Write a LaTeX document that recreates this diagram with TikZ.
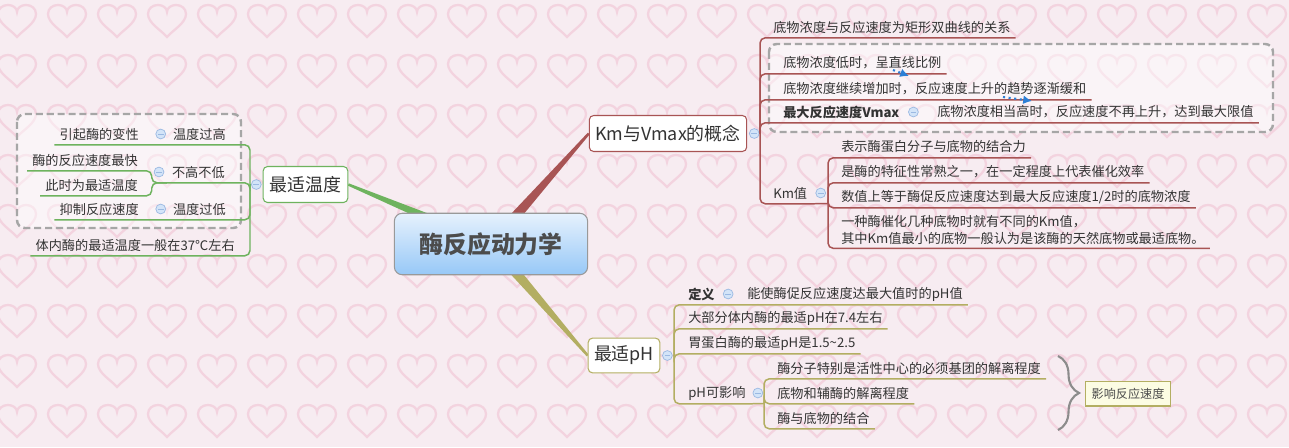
\documentclass[tikz,border=0pt]{standalone}
\usepackage{fontspec}
\setmainfont{Noto Sans CJK SC}
\usepackage{tikz}
\usetikzlibrary{positioning,calc,arrows.meta,backgrounds}
\usetikzlibrary{decorations.pathreplacing}
\definecolor{fenhong}{HTML}{F7ECF1}
\definecolor{taoxin}{HTML}{F3D3DF}
\definecolor{shenhui}{HTML}{333333}
\definecolor{lvse}{HTML}{6EB35E}
\definecolor{hongse}{HTML}{A85454}
\definecolor{ganlan}{HTML}{B3AE62}
\definecolor{zdtian}{HTML}{D3E4F8}
\definecolor{zdbian}{HTML}{9BB9E2}
\definecolor{bjhui}{HTML}{A6A6A6}
\definecolor{lanse}{HTML}{2C7FD6}
\definecolor{gocsang}{HTML}{E6F1FD}
\definecolor{gocdam}{HTML}{97C8F7}
\definecolor{huangdi}{HTML}{FCFCE3}

\begin{document}
\begin{tikzpicture}[x=0.02cm, y=-0.02cm, text=shenhui,
  font=\fontsize{7.5pt}{9.5pt}\selectfont,
  zi/.style={inner xsep=2.8pt, inner ysep=0pt, minimum height=11.9pt},
  cu/.style={font=\fontsize{7.5pt}{9.5pt}\selectfont\bfseries},
  zhuti/.style={draw, fill=white, rounded corners=2.5pt, line width=0.6pt,
    minimum height=20.5pt, inner xsep=3pt, font=\fontsize{10.2pt}{12pt}\selectfont},
  zhedie/.style={circle, draw=zdbian, fill=zdtian, line width=0.4pt,
    minimum size=5.6pt, inner sep=0pt,
    path picture={\draw[zdbian, line width=0.5pt]
      ([xshift=-1.6pt]path picture bounding box.center) --
      ([xshift=1.6pt]path picture bounding box.center);}},
  bianjie/.style={draw=bjhui, line width=1.4pt, dash pattern=on 4pt off 2.2pt,
    rounded corners=4.5pt, fill=white, fill opacity=0.45},
  lvxian/.style={draw=lvse, line width=0.85pt, rounded corners=3pt},
  hongxian/.style={draw=hongse, line width=0.85pt, rounded corners=3pt},
  ganxian/.style={draw=ganlan, line width=0.85pt, rounded corners=3pt},
  guanxi/.style={draw=lanse, line width=1.2pt, dotted, -{Latex[length=5pt,width=5pt]}},
]
\useasboundingbox (0,0) rectangle (1289,447);
\begin{scope}[on background layer]
  \fill[fenhong] (0,0) rectangle (1289,447);
  \clip (0,0) rectangle (1289,447);
  \foreach \i in {0,...,25}
    \foreach \j in {0,...,8}
      \draw[taoxin, line width=1.3pt, shift={({17+50*\i},{21+50*\j})}]
        (0,16) .. controls (-6,9) and (-19,2) .. (-19,-7)
        .. controls (-19,-13) and (-14,-16) .. (-9,-16)
        .. controls (-4,-16) and (0,-13) .. (0,-9)
        .. controls (0,-13) and (4,-16) .. (9,-16)
        .. controls (14,-16) and (19,-13) .. (19,-7)
        .. controls (19,2) and (6,9) .. cycle;
\end{scope}

% boundaries
\draw[bianjie] (17,114) rectangle (241,228);
\draw[bianjie] (769,44) rectangle (1273,132);

% root and main topics
\node[draw=gray!80, line width=0.6pt, rounded corners=4.5pt, top color=gocsang,
  bottom color=gocdam, minimum width=110pt, minimum height=35pt, text=black!70,
  font=\fontsize{13.6pt}{16pt}\selectfont\bfseries] (goc) at (491,244) {酶反应动力学};
\node[zhuti, draw=lvse, minimum width=48.2pt] (wendu) at (305.5,184.5) {最适温度};
\node[zhuti, draw=hongse, minimum width=89.6pt] (kmv) at (668,133.5) {Km与Vmax的概念};
\node[zhuti, draw=ganlan, minimum width=40.8pt, minimum height=19.8pt] (ph) at (624,355.5) {最适pH};

\begin{scope}[on background layer]
  \fill[lvse] ($(wendu.east)!0.7pt!90:(goc.center)$) -- ($(goc.center)!3.5pt!-90:(wendu.east)$)
    -- ($(goc.center)!3.5pt!90:(wendu.east)$) -- ($(wendu.east)!0.7pt!-90:(goc.center)$) -- cycle;
  \fill[hongse] ($(kmv.west)!0.7pt!90:(goc.center)$) -- ($(goc.center)!3.5pt!-90:(kmv.west)$)
    -- ($(goc.center)!3.5pt!90:(kmv.west)$) -- ($(kmv.west)!0.7pt!-90:(goc.center)$) -- cycle;
  \fill[ganlan] ($(ph.west)!0.7pt!90:(goc.center)$) -- ($(goc.center)!3.5pt!-90:(ph.west)$)
    -- ($(goc.center)!3.5pt!90:(ph.west)$) -- ($(ph.west)!0.7pt!-90:(goc.center)$) -- cycle;
\end{scope}

% 最适温度
\node[zhedie, left=0.6pt of wendu] (wdzd) {};
\coordinate (wdgan) at (250,184.5);
\node[zi, anchor=east] (gaoT) at (231,134) {温度过高};
\node[zhedie, left=1pt of gaoT] (gaozd) {};
\node[zi, anchor=east] (bianxingT) at (144,134) {引起酶的变性};
\node[zi, anchor=east] (zhongT) at (230,172) {不高不低};
\node[zhedie, left=1.4pt of zhongT] (zhongzd) {};
\node[zi, anchor=east] (zuikuaiT) at (143,160) {酶的反应速度最快};
\node[zi, anchor=east] (zuishiT) at (143,185) {此时为最适温度};
\node[zi, anchor=east] (diT) at (231,209) {温度过低};
\node[zhedie, left=1pt of diT] (dizd) {};
\node[zi, anchor=east] (yizhiT) at (144,209) {抑制反应速度};
\node[zi, anchor=east] (tineiT) at (240,245) {体内酶的最适温度一般在37℃左右};
\draw[lvxian] (wdzd.west) -- (wdgan);
\draw[lvxian] (wdgan) |- (gaoT.south west) -- (bianxingT.south west);
\draw[lvxian] (wdgan) |- (zhongT.south west);
\draw[lvxian] (wdgan) |- (diT.south west) -- (yizhiT.south west);
\draw[lvxian] (wdgan) |- (tineiT.south west);
\draw[lvxian] (zhongT.south west) -- ++(-15,0) |- (zuikuaiT.south west);
\draw[lvxian] (zhongT.south west) -- ++(-15,0) |- (zuishiT.south west);

% Km与Vmax的概念
\node[zhedie, right=1pt of kmv] (kmvzd) {};
\coordinate (kmgan) at (760,133.5);
\node[zi, anchor=west] (guanxiT) at (768,27) {底物浓度与反应速度为矩形双曲线的关系};
\node[zi, anchor=west] (dishiT) at (778,63) {底物浓度低时，呈直线比例};
\node[zi, anchor=west] (zengjiaT) at (778,89) {底物浓度继续增加时，反应速度上升的趋势逐渐缓和};
\node[zi, cu, anchor=west] (vmaxT) at (778,112) {最大反应速度Vmax};
\node[zhedie, right=2pt of vmaxT] (vmaxzd) {};
\node[zi, anchor=west] (gaoshiT) at (932,112) {底物浓度相当高时，反应速度不再上升，达到最大限值};
\node[zi, anchor=west] (kmzhiT) at (768,193) {Km值};
\node[zhedie, right=1.7pt of kmzhiT] (kmzhizd) {};
\coordinate (kmzhigan) at (828,203.5);
\node[zi, anchor=west] (jieheT) at (836,147) {表示酶蛋白分子与底物的结合力};
\node[zi, anchor=west] (tezhengT) at (836,172) {是酶的特征性常熟之一，在一定程度上代表催化效率};
\node[zi, anchor=west] (shuzhiT) at (836,197) {数值上等于酶促反应速度达到最大反应速度1/2时的底物浓度};
\node[zi, anchor=west, align=left, inner ysep=2pt] (tianranT) at (836,230)
  {一种酶催化几种底物时就有不同的Km值，\\其中Km值最小的底物一般认为是该酶的天然底物或最适底物。};
\draw[hongxian] (kmvzd.east) -- (kmgan);
\draw[hongxian] (kmgan) |- (guanxiT.south east);
\draw[hongxian] (kmgan) |- (dishiT.south east);
\draw[hongxian] (kmgan) |- (zengjiaT.south east);
\draw[hongxian] (kmgan) |- (gaoshiT.south east);
\draw[hongxian] (kmgan) |- (kmzhiT.south east) -- (kmzhigan);
\draw[hongxian] (kmzhigan) |- (jieheT.south east);
\draw[hongxian] (kmzhigan) |- (tezhengT.south east);
\draw[hongxian] (kmzhigan) |- (shuzhiT.south east);
\draw[hongxian] (kmzhigan) |- (tianranT.south east);
\coordinate (g1a) at (893,70);
\coordinate (g1b) at (909,76);
\coordinate (g2a) at (1003,97);
\coordinate (g2b) at (1032,101);
\draw[guanxi] (g1a) -- (g1b);
\draw[guanxi] (g2a) -- (g2b);

% 最适pH
\node[zhedie, right=1pt of ph] (phzd) {};
\coordinate (phgan) at (674,355.5);
\node[zi, cu, anchor=west] (dingyiT) at (683,294) {定义};
\node[zhedie, right=1.7pt of dingyiT] (dingyizd) {};
\node[zi, anchor=west] (zuidaT) at (742,294) {能使酶促反应速度达最大值时的pH值};
\node[zi, anchor=west] (tineiphT) at (683,318) {大部分体内酶的最适pH在7.4左右};
\node[zi, anchor=west] (weidanbaiT) at (683,343) {胃蛋白酶的最适pH是1.5\textasciitilde2.5};
\node[zi, anchor=west] (yingxiangT) at (683,393) {pH可影响};
\node[zhedie, right=1pt of yingxiangT] (yingxiangzd) {};
\coordinate (yxgan) at (764,403.5);
\node[zi, anchor=west] (jieliT) at (772,368) {酶分子特别是活性中心的必须基团的解离程度};
\node[zi, anchor=west] (fumeiT) at (772,393) {底物和辅酶的解离程度};
\node[zi, anchor=west] (jieheT2) at (772,418) {酶与底物的结合};
\draw[ganxian] (phzd.east) -- (phgan);
\draw[ganxian] (phgan) |- (zuidaT.south east);
\draw[ganxian] (phgan) |- (tineiphT.south east);
\draw[ganxian] (phgan) |- (weidanbaiT.south east);
\draw[ganxian] (phgan) |- (yingxiangT.south east) -- (yxgan);
\draw[ganxian] (yxgan) |- (jieliT.south east);
\draw[ganxian] (yxgan) |- (fumeiT.south east);
\draw[ganxian] (yxgan) |- (jieheT2.south east);

% summary brace
\coordinate (kuoshang) at (1058,356);
\coordinate (kuoxia) at (1058,430);
\draw[gray!90, line width=1.2pt, decorate, decoration={brace, amplitude=12pt}] (kuoshang) -- (kuoxia);
\node[draw=ganlan, fill=huangdi, line width=0.6pt, minimum width=48.8pt, minimum height=14.2pt,
  inner sep=1pt, font=\fontsize{6.9pt}{8pt}\selectfont, text=black!70] (zongjieT) at (1128,393.5) {影响反应速度};
\end{tikzpicture}
\end{document}
